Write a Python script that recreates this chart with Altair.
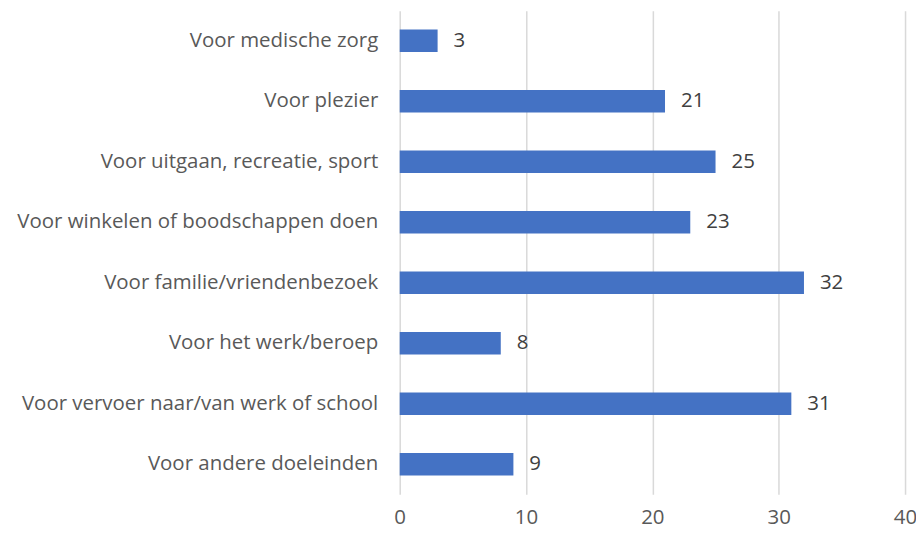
import altair as alt
import pandas as pd

categories = [
    "Voor medische zorg",
    "Voor plezier",
    "Voor uitgaan, recreatie, sport",
    "Voor winkelen of boodschappen doen",
    "Voor familie/vriendenbezoek",
    "Voor het werk/beroep",
    "Voor vervoer naar/van werk of school",
    "Voor andere doeleinden",
]
values = [3, 21, 25, 23, 32, 8, 31, 9]

df = pd.DataFrame({"cat": categories, "val": values})

FONT = "Open Sans"
FS = 20.5

y_enc = alt.Y("cat:N", sort=categories, title=None,
              scale=alt.Scale(paddingInner=0.63, paddingOuter=0.31),
              axis=alt.Axis(domain=False, ticks=False, labelPadding=22,
                            labelFontSize=FS, labelColor="#595959",
                            labelFont=FONT, labelLimit=400))
x_enc = alt.X("val:Q", title=None,
              scale=alt.Scale(domain=[0, 40], nice=False),
              axis=alt.Axis(values=[0, 10, 20, 30, 40], domain=False, ticks=False,
                            grid=True, gridColor="#d9d9d9", gridWidth=1.5,
                            labelFontSize=FS, labelColor="#595959", labelFont=FONT,
                            labelPadding=13, labelFlush=False))

bars = alt.Chart(df).mark_bar(color="#4472C4").encode(x=x_enc, y=y_enc)
labels = alt.Chart(df).mark_text(align="left", dx=16, fontSize=FS,
                                 color="#404040", font=FONT).encode(
    x=alt.X("val:Q"), y=alt.Y("cat:N", sort=categories), text="val:Q")

chart = (bars + labels).properties(
    width=507, height=485,
    autosize=alt.AutoSizeParams(type="none"),
    padding={"left": 393, "top": 2, "right": 11, "bottom": 40},
).configure_view(stroke=None)

chart.save("out.html", embed_options={"renderer": "svg", "actions": False})
